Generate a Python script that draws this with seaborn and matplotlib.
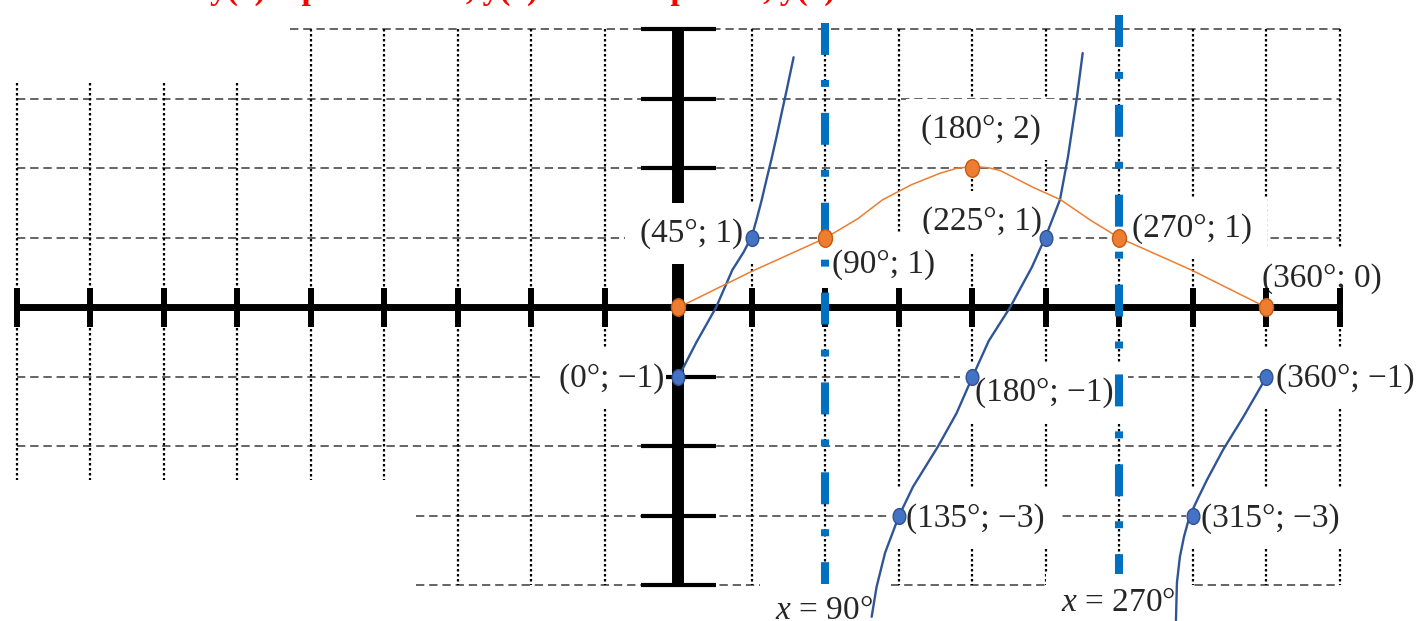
import numpy as np
import matplotlib
matplotlib.use("Agg")
import matplotlib.pyplot as plt
from matplotlib.path import Path
from matplotlib.transforms import Affine2D
import seaborn as sns

# ---- data ----
# blue curve y = 2 tan x - 1, three hand drawn branches
tan1_x = [0, 11, 23, 33, 40, 45, 48, 51, 54, 57, 60, 63, 66, 70.5]
tan1_y = [-1, -0.5, 0, 0.54, 0.8, 1.03, 1.28, 1.55, 1.85, 2.14, 2.45, 2.78, 3.1, 3.6]
tan2_x = [118.3, 121.3, 126.5, 135, 143.6, 158.9, 170.3, 180, 190, 203,
          216.4, 225, 233.6, 238.5, 244, 247.5]
tan2_y = [-4.45, -4.02, -3.53, -3.0, -2.58, -2.0, -1.52, -1.0, -0.48, 0,
          0.58, 1.03, 1.55, 2.17, 3.03, 3.66]
tan3_x = [304.6, 305.2, 307, 309.5, 313, 318, 323.6, 333.4, 345.7, 360]
tan3_y = [-4.5, -3.96, -3.59, -3.3, -3.0, -2.75, -2.48, -2.05, -1.58, -1.0]

# orange curve y = 1 - cos x
cos_x = [0, 44, 90, 110, 125, 143, 160, 170, 180, 190, 197, 217, 234, 252, 270, 314, 360]
cos_y = [0, 0.51, 1.0, 1.28, 1.55, 1.77, 1.93, 2.0, 2.03, 2.01, 1.97, 1.73, 1.55, 1.26, 1.0, 0.54, 0]

# marked points
blue_px = [0, 45, 135, 180, 225, 315, 360]
blue_py = [-1, 1, -3, -1, 1, -3, -1]
orange_px = [0, 90, 180, 270, 360]
orange_py = [0, 1, 2, 1, 0]

# vertical asymptotes
asym_x = [90, 270]
asym_labels = ["$x$ = 90°", "$x$ = 270°"]

x_ticks = [-405, -360, -315, -270, -225, -180, -135, -90, -45, 0,
           45, 90, 135, 180, 225, 270, 315, 360, 405]
y_ticks = [-4, -3, -2, -1, 1, 2, 3, 4]

title = "y(x) = period 360°, y(x) = 2tan x period, y(x)"

# label offsets (points) and alignment, keyed by point
blue_lbl = {
    (0, -1): (-10, -1.5, "right"),
    (45, 1): (-6.5, 3.5, "right"),
    (135, -3): (5, -2, "left"),
    (180, -1): (1.5, -11, "left"),
    (225, 1): (-3, 12, "right"),
    (315, -3): (6, -2, "left"),
    (360, -1): (7, -1.5, "left"),
}
orange_lbl = {
    (0, 0): None,
    (90, 1): (5, -19, "left"),
    (180, 2): (6, 28, "center"),
    (270, 1): (9, 7, "left"),
    (360, 0): (-3.5, 21, "left"),
}

sns.set_style("white")
plt.rcParams["font.family"] = ["Liberation Serif", "DejaVu Serif"]
plt.rcParams["mathtext.fontset"] = "custom"
plt.rcParams["mathtext.it"] = "Liberation Serif:italic"
plt.rcParams["mathtext.rm"] = "Liberation Serif"
plt.rcParams["lines.scale_dashes"] = False

fig = plt.figure(figsize=(14.18, 6.21), dpi=100)
ax = fig.add_axes([0, 0, 1, 1])
ax.set_xlim(-415.4, 452.8)
ax.set_ylim(-4.511, 4.424)
ax.axis("off")

# grid: dashed rows, dotted columns (the drawn grid is ragged at the corners)
for gy in y_ticks:
    x0 = -238 if gy == 4 else (-161 if gy <= -3 else -405)
    ax.hlines(gy, x0, 405, colors="#4a4a4a", lw=1.2, linestyles=(0, (6, 3.5)), zorder=1)
for gx in x_ticks:
    if gx == 0:
        continue
    top = 3.23 if gx <= -270 else 4
    bot = -2.48 if gx <= -180 else -4
    ax.vlines(gx, top, bot, colors="black", lw=1.6, linestyles=(0, (1.8, 1.8)), zorder=1)

# axes
ax.plot([-405, 405], [0, 0], color="black", lw=5, solid_capstyle="butt", zorder=3)
ax.plot([0, 0], [-4, 4], color="black", lw=8.6, solid_capstyle="butt", zorder=3)
ax.vlines(x_ticks, -0.28, 0.28, colors="black", lw=4.3, zorder=3)
ax.hlines(y_ticks, -23, 23, colors="black", lw=3, zorder=3)

# asymptotes
asym = ax.vlines(asym_x, [4.09, 4.21], [-3.98, -3.83], colors="#0070C0", lw=5.8,
                 linestyles=(0, (23, 18, 5, 18.7)), zorder=4)
asym.set_capstyle("butt")
for ax_x, lab, dy in zip(asym_x, asym_labels, [-18.5, -12.5]):
    ax.annotate(lab, (ax_x, -4), xytext=(-1, dy), textcoords="offset points",
                ha="center", va="center", fontsize=24, zorder=2.5,
                bbox=dict(boxstyle="square,pad=0.45", fc="white", ec="none"))

# curves
for bx, by in [(tan1_x, tan1_y), (tan2_x, tan2_y), (tan3_x, tan3_y)]:
    sns.lineplot(x=bx, y=by, ax=ax, color="#2F5597", lw=1.7, sort=False,
                 estimator=None, zorder=5)
sns.lineplot(x=cos_x, y=cos_y, ax=ax, color="#ED7D31", lw=1.1, sort=False,
             estimator=None, zorder=5)

# points
ellipse = Path.unit_circle().transformed(Affine2D().scale(0.8, 1.0))
sns.scatterplot(x=blue_px, y=blue_py, ax=ax, marker=ellipse, s=130, color="#4472C4",
                edgecolor="#2F528F", linewidth=1, zorder=6)
sns.scatterplot(x=orange_px, y=orange_py, ax=ax, marker=ellipse, s=160, color="#ED7D31",
                edgecolor="#C55A11", linewidth=1, zorder=6)


def fmt(v):
    return str(v).replace("-", "\u2212")


for lbl in (blue_lbl, orange_lbl):
    for (px, py), spec in lbl.items():
        if spec is None:
            continue
        dx, dy, ha = spec
        text = f"({px}°; {fmt(py)})"
        z = 3.5 if (px, py) == (45, 1) else 2.5
        ax.annotate(text, (px, py), xytext=(dx, dy),
                    textcoords="offset points", ha=ha, va="center", fontsize=24,
                    zorder=z,
                    bbox=dict(boxstyle="square,pad=0.45", fc="white", ec="none"))
        if (px, py) == (0, -1):
            # the text itself sits over the left half of the y = -1 tick
            ax.annotate(text, (px, py), xytext=(dx, dy),
                        textcoords="offset points", ha=ha, va="center", fontsize=24,
                        zorder=3.5,
                        bbox=dict(boxstyle="square,pad=0.05", fc="white", ec="none"))

fig.text(210 / 1418, 1 + 1 / 621, title, color="red", fontweight="bold",
         fontsize=24, ha="left", va="baseline")

fig.savefig("out.png", dpi=100)
